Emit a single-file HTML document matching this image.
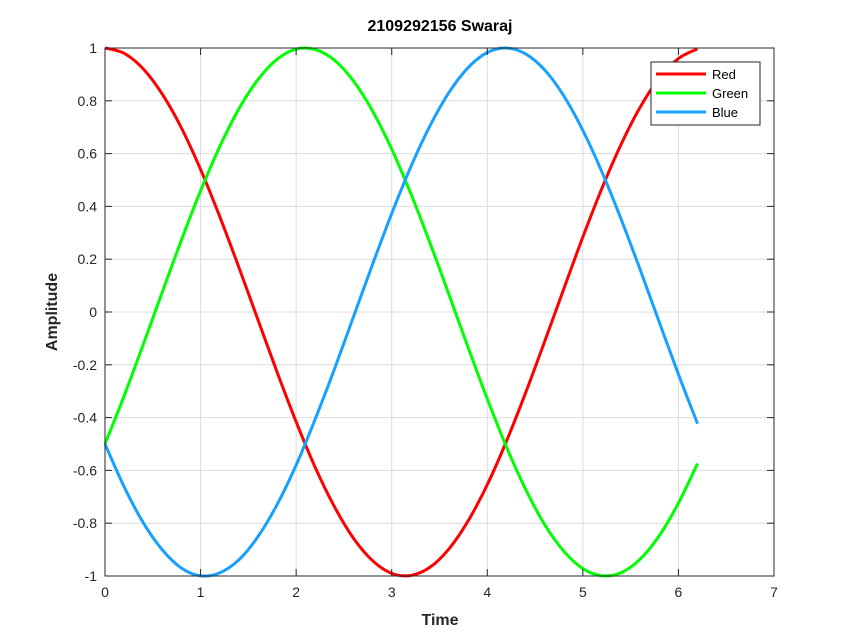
<!DOCTYPE html>
<html><head><meta charset="utf-8"><style>
body{margin:0;background:#fff}
svg{display:block;font-family:"Liberation Sans",Arial,sans-serif}
</style></head><body>
<svg id="chart" width="847" height="634" viewBox="0 0 847 634">
<rect x="0" y="0" width="847" height="634" fill="#fff"/>
<g id="grid"></g>
<g id="series"></g>
<rect x="105" y="48" width="669" height="528" fill="none" stroke="#262626" stroke-width="1"/>
<g id="ticks"></g>
<text x="440" y="31" text-anchor="middle" font-size="16" font-weight="bold" fill="#000">2109292156 Swaraj</text>
<text x="440" y="625" text-anchor="middle" font-size="16" font-weight="bold" fill="#262626">Time</text>
<text x="57" y="312" text-anchor="middle" font-size="16" font-weight="bold" fill="#262626" transform="rotate(-90 57 312)">Amplitude</text>
<g id="legend">
<rect x="651" y="62" width="109" height="63" fill="#fff" stroke="#262626" stroke-width="1"/>
</g>
</svg>
<script>
const seriesNames = ["Red","Green","Blue"];
const seriesColors = ["#ff0000","#00ff00","#18a0ff"];
const tValues = [0,0.2,0.4,0.6,0.8,1.0,1.2,1.4,1.6,1.8,2.0,2.2,2.4,2.6,2.8,3.0,3.2,3.4,3.6,3.8,4.0,4.2,4.4,4.6,4.8,5.0,5.2,5.4,5.6,5.8,6.0,6.2];
const redValues = [1,0.980,0.921,0.825,0.697,0.540,0.362,0.170,-0.029,-0.227,-0.416,-0.589,-0.737,-0.857,-0.942,-0.990,-0.998,-0.967,-0.897,-0.791,-0.654,-0.490,-0.307,-0.112,0.087,0.284,0.469,0.635,0.776,0.886,0.960,0.997];
const greenValues = [-0.5,-0.318,-0.123,0.076,0.273,0.459,0.626,0.769,0.880,0.957,0.996,0.994,0.954,0.875,0.761,0.617,0.448,0.262,0.065,-0.135,-0.329,-0.510,-0.671,-0.805,-0.906,-0.972,-0.999,-0.987,-0.936,-0.847,-0.724,-0.574];
const blueValues = [-0.5,-0.662,-0.798,-0.901,-0.970,-0.999,-0.988,-0.939,-0.851,-0.730,-0.580,-0.405,-0.217,-0.018,0.181,0.373,0.550,0.705,0.832,0.926,0.983,1.000,0.978,0.917,0.819,0.688,0.530,0.352,0.160,-0.039,-0.236,-0.423];
const xTicks = [0,1,2,3,4,5,6,7];
const yTicks = [-1,-0.8,-0.6,-0.4,-0.2,0,0.2,0.4,0.6,0.8,1];

const NS="http://www.w3.org/2000/svg";
const L=105,R=774,T=48,B=576;
const xs=v=>L+(v-0)/(7-0)*(R-L);
const ys=v=>B-(v+1)/2*(B-T);
function mk(tag,attrs,parent){const e=document.createElementNS(NS,tag);for(const k in attrs)e.setAttribute(k,attrs[k]);parent.appendChild(e);return e;}
const grid=document.getElementById('grid'),ticks=document.getElementById('ticks');
xTicks.forEach(v=>{
  const x=xs(v);
  const g=mk('line',{x1:x,x2:x,y1:T,y2:B,stroke:'#dcdcdc','stroke-width':1},grid);
  
  
  const t1=mk('line',{x1:x,x2:x,y1:B,y2:B-7,stroke:'#262626'},ticks);
  
  
  const t2=mk('line',{x1:x,x2:x,y1:T,y2:T+7,stroke:'#262626'},ticks);
  
  
  const lb=mk('text',{x:x,y:B+21,'text-anchor':'middle','font-size':14,fill:'#262626'},ticks);
  lb.textContent=String(v);
  
  
});
yTicks.forEach(v=>{
  const y=ys(v);
  const g=mk('line',{x1:L,x2:R,y1:y,y2:y,stroke:'#dcdcdc','stroke-width':1},grid);
  
  
  const t1=mk('line',{x1:L,x2:L+7,y1:y,y2:y,stroke:'#262626'},ticks);
  
  
  const t2=mk('line',{x1:R,x2:R-7,y1:y,y2:y,stroke:'#262626'},ticks);
  
  
  const lb=mk('text',{x:L-8,y:y+5,'text-anchor':'end','font-size':14,fill:'#262626'},ticks);
  lb.textContent=String(v);
  
  
});
function smoothPath(pts){
  let d=`M${pts[0][0]},${pts[0][1]}`;
  for(let i=0;i<pts.length-1;i++){
    const p0=pts[Math.max(0,i-1)],p1=pts[i],p2=pts[i+1],p3=pts[Math.min(pts.length-1,i+2)];
    const c1=[p1[0]+(p2[0]-p0[0])/6,p1[1]+(p2[1]-p0[1])/6];
    const c2=[p2[0]-(p3[0]-p1[0])/6,p2[1]-(p3[1]-p1[1])/6];
    d+=` C${c1[0]},${c1[1]} ${c2[0]},${c2[1]} ${p2[0]},${p2[1]}`;
  }
  return d;
}
const allSeries=[redValues,greenValues,blueValues];
const sg=document.getElementById('series');
allSeries.forEach((vals,i)=>{
  const pts=tValues.map((t,j)=>[xs(t),ys(vals[j])]);
  const p=mk('path',{d:smoothPath(pts),fill:'none',stroke:seriesColors[i],'stroke-width':3,'stroke-linejoin':'round'},sg);
  
  
});
const lg=document.getElementById('legend');
seriesNames.forEach((n,i)=>{
  const y=74+i*19;
  const l=mk('line',{x1:656,x2:706,y1:y,y2:y,stroke:seriesColors[i],'stroke-width':3},lg);
  
  
  const t=mk('text',{x:712,y:y+5,'font-size':13,fill:'#000'},lg);
  t.textContent=n;
  
  
});
</script>
</body></html>
